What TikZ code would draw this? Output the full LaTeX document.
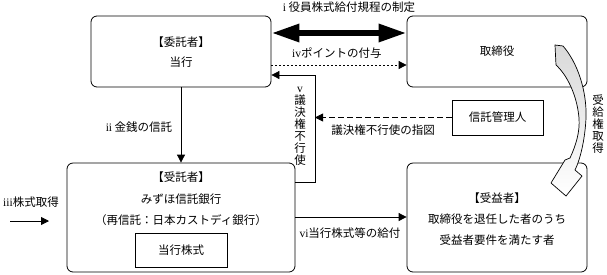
\documentclass[tikz,border=0pt]{standalone}
\usepackage{fontspec}
\setmainfont{Noto Sans CJK JP}
\newfontfamily\rmn{Liberation Serif}
\usetikzlibrary{arrows.meta}
\begin{document}
\begin{tikzpicture}[x=1pt,y=-1pt,
  font=\fontsize{11.5}{12}\selectfont,
  rbox/.style={draw, rounded corners=6pt, line width=0.8pt, inner sep=0pt},
  sbox/.style={draw, line width=0.8pt, inner sep=0pt},
  lbl/.style={inner sep=0pt, align=center},
  arr/.style={-{Triangle[length=8pt,width=8pt]}, line width=0.8pt},
  fat/.style={{Triangle[length=28pt,width=17pt]}-{Triangle[length=28pt,width=17pt]}, line width=6pt},
  finedash/.style={dash pattern=on 2pt off 2pt},
  longdash/.style={dash pattern=on 6pt off 3pt}
]
\fill[white] (0,0) rectangle (607,274);
\useasboundingbox (0,0) rectangle (607,274);

% boxes
\node[rbox, minimum width=180pt, minimum height=71pt] (itaku) at (181,51.5) {};
\node[lbl, font=\fontsize{11.5}{20}\selectfont] (itakut) at (181,52) {【委託者】\\当行};
\node[rbox, minimum width=180pt, minimum height=71pt] (tori) at (497,51.5) {取締役};
\node[sbox, minimum width=91pt, minimum height=35pt] (kanri) at (497.5,117.5) {信託管理人};
\node[rbox, minimum width=228pt, minimum height=109pt] (jutaku) at (181,217.5) {};
\node[lbl, font=\fontsize{11.5}{21.5}\selectfont] (jutakut) at (181,199) {【受託者】\\みずほ信託銀行\\（再信託：日本カストディ銀行）};
\node[sbox, minimum width=92pt, minimum height=34pt] (kabu) at (181,250) {当行株式};
\node[rbox, minimum width=180pt, minimum height=109pt] (jueki) at (497,217.5) {};
\node[lbl, font=\fontsize{11.5}{21}\selectfont] (juekit) at (497,219) {【受益者】\\取締役を退任した者のうち\\受益者要件を満たす者};

% helper coordinates
\coordinate (y33) at (0,33);
\coordinate (y65) at (0,65);
\coordinate (y75) at (0,75);
\coordinate (y182) at (0,182);
\coordinate (y217) at (0,217);
\coordinate (v1) at (315,182);
\coordinate (v2) at (315,75);
\coordinate (s1) at (10,221);
\coordinate (s2) at (49,221);

% connectors
\draw[fat] (itaku.east |- y33) -- (tori.west |- y33);
\draw[arr, finedash] (itaku.east |- y65) -- (tori.west |- y65);
\draw[arr] (jutaku.east |- y182) -- (v1) -- (v2) -- (itaku.east |- y75);
\draw[arr, longdash] (kanri.west) -- (kanri.west -| v1);
\draw[arr] (itaku.south) -- (jutaku.north);
\draw[arr] (s1) -- (s2);
\draw[arr] (jutaku.east |- y217) -- (jueki.west |- y217);

% curved fat arrow
\shade[top color=gray!30, bottom color=white, draw=black, line width=0.7pt, line join=miter]
  (555,45) -- (563,46) .. controls (577,62) and (587,90) .. (586,118)
  .. controls (585,140) and (580,160) .. (575,170) -- (582,176) -- (566,196)
  -- (551,183) -- (565,160) -- (570,158)
  .. controls (576,145) and (580,132) .. (579,118)
  .. controls (577,95) and (567,75) .. (556,65) -- cycle;

% labels
\node[lbl] (li) at (349,7) {{\rmn i} 役員株式給付規程の制定};
\node[lbl, anchor=west] (liv) at (292,53) {{\rmn iv}ポイントの付与};
\node[lbl] (lii) at (139,127) {{\rmn ii} 金銭の信託};
\node[lbl] (liii) at (31,202) {{\rmn iii}株式取得};
\node[lbl] (lv) at (300,126) {{\rmn v}\\議\\決\\権\\不\\行\\使};
\node[lbl] (lsashizu) at (383,130) {議決権不行使の指図};
\node[lbl] (lvi) at (350,233) {{\rmn vi}当行株式等の給付};
\node[lbl] (lju) at (598,124) {受\\給\\権\\取\\得};
\end{tikzpicture}
\end{document}
